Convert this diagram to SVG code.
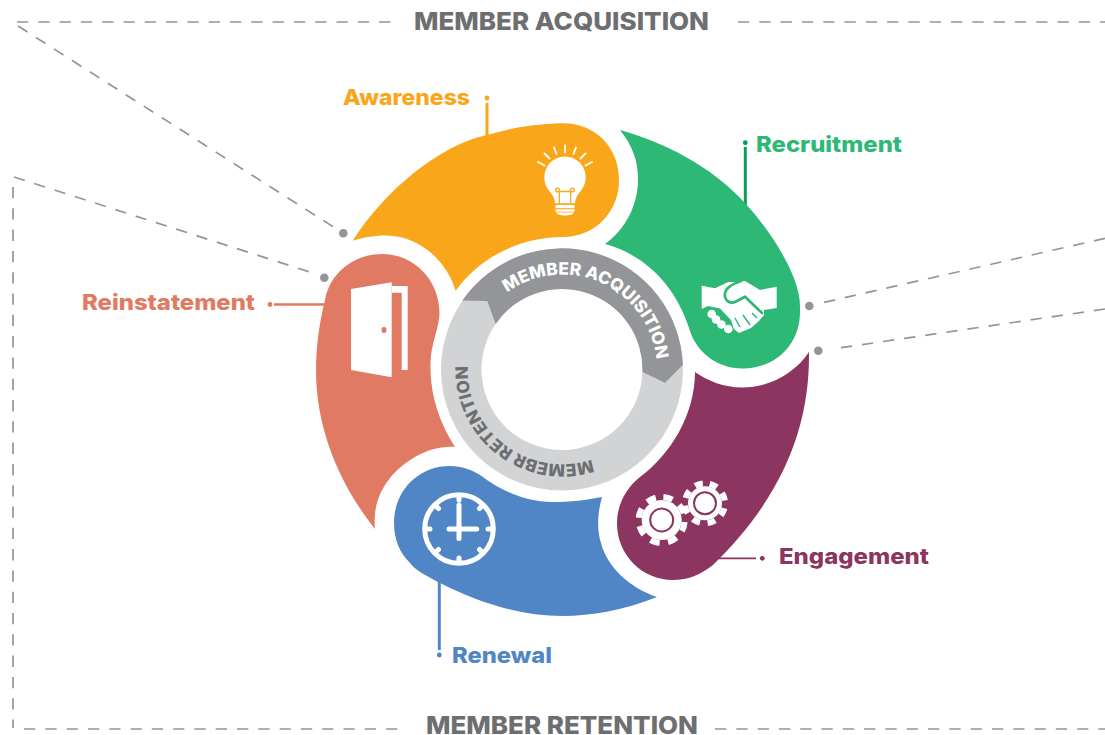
<svg xmlns="http://www.w3.org/2000/svg" width="1105" height="735" viewBox="0 0 1105 735">
<style>
text{font-family:"Inter","Liberation Sans",sans-serif;font-weight:800}
.dash{fill:none;stroke:#939598;stroke-width:1.7;stroke-dasharray:11.3 10}
.dot{fill:#939598}
.head{font-size:24.500px;fill:#6d6e71}
.lab{font-size:22px}
.ic{fill:#fff}
.st{fill:none;stroke:#fff;stroke-linecap:round}
</style>
<rect width="1105" height="735" fill="#fff"/>
<g id="connectors">
<path class="dash" d="M17 22H398M738 22H1105"/>
<path class="dash" d="M18 26L333 226.7"/>
<path class="dash" d="M14 177L316 274"/>
<path class="dash" d="M13 187V728"/>
<path class="dash" d="M24 729H398M715 729H1105"/>
<path class="dash" d="M1105 238.3L817 304"/>
<path class="dash" d="M1105 309L832 349"/>
<circle class="dot" cx="343.3" cy="233.3" r="4.3"/>
<circle class="dot" cx="324.3" cy="277.7" r="4.3"/>
<circle class="dot" cx="809.3" cy="306" r="4.3"/>
<circle class="dot" cx="818.3" cy="350.7" r="4.3"/>
<path d="M487 103V140" fill="none" stroke="#faa61a" stroke-width="3"/>
<circle cx="487" cy="98" r="2.4" fill="#faa61a"/>
<path d="M745.3 147V208" fill="none" stroke="#0a9e58" stroke-width="3"/>
<circle cx="745.3" cy="142.7" r="2.4" fill="#0a9e58"/>
<path d="M274 304.500H330" fill="none" stroke="#e07a62" stroke-width="2.500"/>
<circle cx="270" cy="304.500" r="2.400" fill="#e07a62"/>
<path d="M716 558.300H756" fill="none" stroke="#8c3560" stroke-width="1.800"/>
<circle cx="762.300" cy="558.300" r="2.400" fill="#8c3560"/>
<path d="M439.300 578V650" fill="none" stroke="#5085c6" stroke-width="3"/>
<circle cx="439.300" cy="655" r="2.400" fill="#5085c6"/>
</g>
<g id="title-acquisition"><text class="head" x="414" y="29.500" textLength="295" lengthAdjust="spacingAndGlyphs">MEMBER ACQUISITION</text></g>
<g id="title-retention"><text class="head" x="426" y="734" textLength="272" lengthAdjust="spacingAndGlyphs">MEMBER RETENTION</text></g>
<g id="awareness">
<path fill="#faa61a" d="M352.700 240.700C385 190 440 145 487 135C510 128 535 124 560 123.300C595 122 619 147 619 180C619 212 595 237 563 237C520 237 480 257 455.700 290.700C447 262 420 235 385 235.500C373 235.500 362 238 352.700 240.700Z"/>
<path class="ic" d="M565 156.500a20.700 20.700 0 0 1 20.700 20.700c0 8-4 12.500-7.500 17c-2 2.500-3 5.500-3.200 9h-20c-.2-3.500-1.200-6.500-3.200-9c-3.500-4.500-7.500-9-7.500-17a20.700 20.700 0 0 1 20.700-20.700z"/>
<path fill="none" stroke="#faa61a" stroke-width="1.300" d="M559.300 192V203.500M570.700 192V203.500M559.300 191.500H570.700"/>
<circle cx="557.500" cy="190" r="1.900" fill="none" stroke="#faa61a" stroke-width="1.300"/>
<circle cx="572.500" cy="190" r="1.900" fill="none" stroke="#faa61a" stroke-width="1.300"/>
<rect class="ic" x="555.500" y="205" width="19" height="3.200"/>
<rect class="ic" x="555.500" y="209.300" width="19" height="2.400"/>
<path class="ic" d="M556 212.500h18c-1 2-5 3-9 3s-8-1-9-3z"/>
<path class="st" stroke-width="1.800" d="M565 145.500V152.500M554 147.500L556.500 154M544.500 153.500L549.500 158.500M538 162L544.500 165.500M576 147.500L573.500 154M585.500 153.500L580.500 158.500M592 162L585.500 165.500"/>
<text class="lab" x="343" y="105" fill="#faa61a" textLength="127" lengthAdjust="spacingAndGlyphs">Awareness</text>
</g>
<g id="recruitment">
<path fill="#2db875" d="M620 130C665 143 710 165 745 203C770 230 795 270 799 296C800 301 800 306 800 312C800 345 775 368.500 743 368.500C715 368.500 695 350 689 328C675 285 645 255 605 244C625 230 638 205 638 180C638 160 632 145 620 130Z"/>
<path class="ic" d="M701.700 285.700L715 288.300L728.300 282H738L745 281L760 290L776.700 286.700V308L764 310V315L759 321L751 328L739 333L734 329L731 320L720 308.500L708 306L701.700 309Z"/>
<path fill="none" stroke="#2db875" stroke-width="2.700" stroke-linecap="round" stroke-linejoin="round" d="M741 281C732 284 726 288 725 293C724 300 729 304 735 302L745 296.700L762 313"/>
<path fill="none" stroke="#2db875" stroke-width="1.500" d="M743 315L750 325M752 313L757 318M735 318L740 327"/>
<g fill="#fff"><circle cx="711.700" cy="314" r="4.300"/><circle cx="716" cy="319.500" r="4.300"/><circle cx="721.500" cy="324.500" r="4.300"/><circle cx="728.300" cy="329" r="4.300"/></g>
<text class="lab" x="756" y="152" fill="#2db875" textLength="146" lengthAdjust="spacingAndGlyphs">Recruitment</text>
</g>
<g id="engagement">
<path fill="#8c3560" d="M809 352C810 430 780 500 713 565C700 575 688 580 673 580C642 580 617 555 617 523C617 505 626 488 640 477C670 455 695 415 695 372C708 381 724 387.500 742 387.500C770 387.500 795 373 809 352Z"/>
<circle cx="661.700" cy="520" r="20" fill="#fff"/>
<circle cx="661.700" cy="520" r="23" fill="none" stroke="#fff" stroke-width="6" stroke-dasharray="9.500 8.560" transform="rotate(-85.800 661.700 520)"/>
<circle cx="661.700" cy="520" r="11.500" fill="#fff" stroke="#8c3560" stroke-width="2"/>
<circle cx="705" cy="503.300" r="17" fill="#fff"/>
<circle cx="705" cy="503.300" r="20" fill="none" stroke="#fff" stroke-width="6" stroke-dasharray="8 7.710" transform="rotate(-76.500 705 503.300)"/>
<circle cx="705" cy="503.300" r="11" fill="#fff" stroke="#8c3560" stroke-width="2"/>
<text class="lab" x="779" y="564" fill="#8c3560" textLength="150" lengthAdjust="spacingAndGlyphs">Engagement</text>
</g>
<g id="renewal">
<path fill="#5085c6" d="M602 497C597 515 597 530 601 543C607 567 630 588 657 597C625 610 590 616 563 616C520 616 480 603 440 583C425 575 415 570 410 563C400 553 394 540 394 523C394 491 418 466 450 466C462 466 472 470 480 475C500 490 525 502 552 502C570 502 587 500 602 497Z"/>
<circle cx="459" cy="529" r="34.300" fill="none" stroke="#fff" stroke-width="5"/>
<path class="st" stroke-width="5" d="M459 505V538.500M449 529H476.700M459 497V500M459 558V561M427 529H430M488 529H491M436.400 506.400L438.500 508.500M481.600 506.400L479.500 508.500M436.400 551.600L438.500 549.500M481.600 551.600L479.500 549.500"/>
<text class="lab" x="452" y="663" fill="#5085c6" textLength="100" lengthAdjust="spacingAndGlyphs">Renewal</text>
</g>
<g id="reinstatement">
<path fill="#e07a62" d="M382 254C414 254 439.500 280 439.500 313C439.500 325 433 340 431 355C428 390 438 420 455 447C430 445 405 460 390 478C378 493 373 510 375 529C340 485 316 430 316 370C316 345 320 320 325 300C330 272 355 254 382 254Z"/>
<path class="ic" d="M351 289L391.700 282.300V377.300L351 370Z"/>
<path class="ic" d="M391.700 286H407.700V370H401.700V292.700H391.700Z"/>
<ellipse cx="384" cy="330" rx="2.500" ry="3" fill="#e07a62"/>
<text class="lab" x="82" y="310" fill="#e07a62" textLength="173" lengthAdjust="spacingAndGlyphs">Reinstatement</text>
</g>
<g id="ring">
<defs>
<path id="arcA" d="M507 292.500A94.500 94.500 0 0 1 656.500 360"/>
<path id="arcR" d="M591.700 459.500A94.500 94.500 0 0 1 468 363.300"/>
</defs>
<path fill="#d1d3d4" fill-rule="evenodd" d="M441 369.500a121 121 0 1 0 242 0a121 121 0 1 0-242 0ZM481.500 369.500a80.500 80.500 0 1 1 161 0a80.500 80.500 0 1 1-161 0Z"/>
<path fill="#939598" d="M462.300 300.600L487.300 301L495.700 323.900A80.500 80.500 0 0 1 642.500 372L665 382.700L682.800 365A121 121 0 0 0 462.300 300.600Z"/>
<text font-size="17" fill="#fff"><textPath href="#arcA" textLength="198" lengthAdjust="spacingAndGlyphs">MEMBER ACQUISITION</textPath></text>
<text font-size="17" fill="#6d6e71"><textPath href="#arcR" textLength="182" lengthAdjust="spacingAndGlyphs">MEMEBR RETENTION</textPath></text>
</g>
</svg>
